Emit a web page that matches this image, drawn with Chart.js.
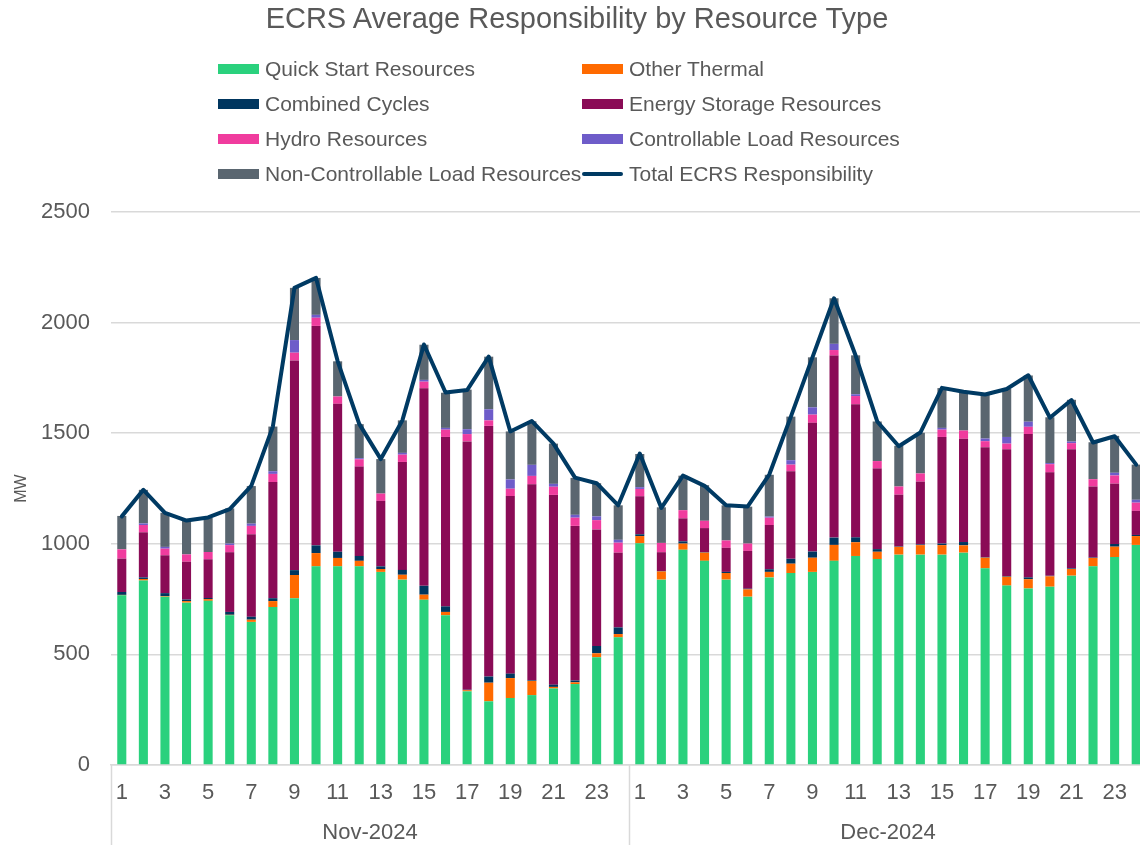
<!DOCTYPE html>
<html>
<head>
<meta charset="utf-8">
<script src="https://cdn.jsdelivr.net/npm/chart.js@4.4.1/dist/chart.umd.min.js"></script>
<style>
  html, body { margin: 0; padding: 0; background: #ffffff; overflow: hidden; }
  #wrap { position: relative; width: 1152px; height: 845px; }
  #title { position: absolute; left: 0; top: 2px; width: 1154px; text-align: center;
    font-family: "Liberation Sans", Arial, sans-serif; font-size: 29px; color: #595959; }
  #legend { position: absolute; left: 218px; top: 51px; display: grid;
    grid-template-columns: 364px 330px; grid-auto-rows: 35px;
    font-family: "Liberation Sans", Arial, sans-serif; font-size: 21px; color: #595959; }
  .li { display: flex; align-items: center; white-space: nowrap; }
  .sw { width: 41px; height: 10px; margin-right: 6px; flex: none; }
  .ln { width: 41px; height: 4px; border-radius: 2px; margin-right: 6px; flex: none; }
  canvas { position: absolute; left: 0; top: 0; }
</style>
</head>
<body>
<div id="wrap">
  <canvas id="c" width="1152" height="845"></canvas>
  <div id="title">ECRS Average Responsibility by Resource Type</div>
  <div id="legend"></div>
</div>
<script>
const months = ['Nov-2024', 'Dec-2024'];
const days = [1,2,3,4,5,6,7,8,9,10,11,12,13,14,15,16,17,18,19,20,21,22,23,24];

const quickStart = [767,834,761,734,742,677,647,714,754,898,898,898,873,838,747,677,333,288,303,316,346,366,487,577,
                    1002,838,973,923,838,761,848,868,873,923,945,931,951,951,951,960,889,811,798,806,856,898,940,995];
const otherThermal = [2,7,3,7,8,2,10,27,105,60,38,25,13,22,23,15,5,84,90,64,7,8,18,15,
                      33,37,28,37,30,33,25,42,64,72,62,33,35,43,43,33,48,40,42,47,30,38,47,40];
const combinedCycles = [13,7,13,7,5,13,13,13,22,35,28,22,12,22,40,25,2,28,20,3,10,8,33,30,
                        8,2,10,2,5,3,12,22,28,33,22,12,2,3,7,15,2,3,8,2,3,2,12,5];
const energyStorage = [151,204,171,171,175,270,373,525,948,992,669,404,296,488,893,766,1123,1133,803,886,858,699,527,338,
                       172,85,104,109,109,171,200,396,582,823,602,365,234,284,482,467,498,574,648,468,539,321,273,109];
const hydro = [42,33,30,33,33,32,38,37,35,37,33,33,33,33,30,33,33,25,33,38,37,37,42,45,
               33,42,37,33,33,33,33,30,37,25,37,33,37,37,33,37,27,25,33,37,27,33,37,37];
const controllableLoad = [0,7,8,0,0,7,10,12,57,13,0,5,0,8,8,8,22,50,42,50,13,13,17,13,
                          8,0,0,0,0,0,5,20,33,28,8,0,0,0,8,0,12,30,23,5,7,0,12,13];
const nonControllableLoad = [151,152,154,154,154,159,170,202,236,167,159,154,156,147,159,159,179,238,217,197,182,167,150,156,
                             150,161,156,161,159,167,189,197,226,206,176,179,184,184,180,176,200,217,209,207,189,167,167,159];
const totalECRS = [1124,1244,1140,1105,1119,1157,1262,1530,2157,2202,1826,1542,1383,1558,1901,1684,1695,1846,1508,1555,1453,1299,1274,1174,
                   1408,1162,1308,1262,1174,1169,1313,1575,1843,2110,1851,1553,1441,1503,1705,1687,1675,1700,1762,1570,1650,1458,1486,1358];
const yTicks = [0, 500, 1000, 1500, 2000, 2500];

const labels = [];
months.forEach(m => days.forEach(d => labels.push(String(d))));

const TXT = '#595959';
const FONT = '"Liberation Sans", Arial, sans-serif';

const barSeries = [
  ['Quick Start Resources', quickStart, '#2AD17D'],
  ['Other Thermal', otherThermal, '#FF6A00'],
  ['Combined Cycles', combinedCycles, '#00365F'],
  ['Energy Storage Resources', energyStorage, '#8A0B56'],
  ['Hydro Resources', hydro, '#F03C9E'],
  ['Controllable Load Resources', controllableLoad, '#6E5CC9'],
  ['Non-Controllable Load Resources', nonControllableLoad, '#5A6670'],
];

const datasets = barSeries.map(([name, data, color]) => ({
  type: 'bar', label: name, data, backgroundColor: color, stack: 'res',
  barPercentage: 0.42, categoryPercentage: 1.0, order: 2, borderWidth: 0
}));
datasets.push({
  type: 'line', label: 'Total ECRS Responsibility', data: totalECRS, stack: 'total',
  borderColor: '#003A63', backgroundColor: '#003A63', borderWidth: 4, pointRadius: 0,
  tension: 0, order: 0, borderJoinStyle: 'round', borderCapStyle: 'round'
});

// HTML legend (2 columns)
const lg = document.getElementById('legend');
datasets.forEach(ds => {
  const it = document.createElement('div'); it.className = 'li';
  const sw = document.createElement('span');
  sw.className = ds.type === 'line' ? 'ln' : 'sw';
  sw.style.background = ds.type === 'line' ? ds.borderColor : ds.backgroundColor;
  const tx = document.createElement('span'); tx.textContent = ds.label;
  it.appendChild(sw); it.appendChild(tx); lg.appendChild(it);
});

const groupAxis = {
  id: 'groupAxis',
  afterDraw(chart) {
    const x = chart.scales.x, ctx = chart.ctx;
    const n = days.length;
    const top = chart.chartArea.bottom, bottom = chart.height;
    const bounds = [x.left];
    for (let g = 1; g < months.length; g++) {
      bounds.push((x.getPixelForValue(g * n - 1) + x.getPixelForValue(g * n)) / 2);
    }
    bounds.push(x.right);
    ctx.save();
    ctx.strokeStyle = '#D9D9D9'; ctx.lineWidth = 1.5;
    bounds.forEach(b => {
      ctx.beginPath(); ctx.moveTo(Math.round(b) + 0.5, top); ctx.lineTo(Math.round(b) + 0.5, bottom); ctx.stroke();
    });
    ctx.fillStyle = TXT; ctx.font = '22px ' + FONT;
    ctx.textAlign = 'center'; ctx.textBaseline = 'middle';
    months.forEach((m, i) => ctx.fillText(m, (bounds[i] + bounds[i + 1]) / 2, 833));
    ctx.restore();
  }
};

new Chart(document.getElementById('c'), {
  data: { labels, datasets },
  options: {
    responsive: false, animation: false,
    layout: { padding: { top: 212, right: 5, left: 0, bottom: 0 } },
    plugins: { legend: { display: false }, title: { display: false }, tooltip: { enabled: false } },
    scales: {
      x: {
        stacked: true, offset: true,
        grid: { display: false, drawTicks: false },
        border: { display: true, color: '#D9D9D9', width: 1.5 },
        ticks: {
          autoSkip: false, maxRotation: 0, minRotation: 0, padding: 15,
          color: TXT, font: { family: FONT, size: 22 },
          callback: (v, i) => (i % 2 === 0 ? labels[i] : '')
        },
        afterFit: s => { s.height = 80; }
      },
      y: {
        stacked: true, min: 0, max: 2500,
        afterBuildTicks: s => { s.ticks = yTicks.map(v => ({ value: v })); },
        grid: { color: '#D9D9D9', lineWidth: 1.5, drawTicks: false },
        border: { display: false },
        ticks: { padding: 21, color: TXT, font: { family: FONT, size: 22 }, callback: v => String(v) },
        title: { display: true, text: 'MW', color: TXT, font: { family: FONT, size: 16 }, padding: { top: 12, bottom: 0 } },
        afterFit: s => { s.width = 111; }
      }
    }
  },
  plugins: [groupAxis]
});
</script>
</body>
</html>
